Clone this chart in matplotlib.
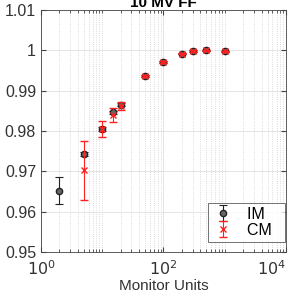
import numpy as np
import matplotlib.pyplot as plt
from matplotlib.ticker import LogLocator, FixedLocator

plt.rcParams['font.family'] = ['Liberation Sans', 'DejaVu Sans']

# monitor units and measured output ratios
mu = [2, 5, 10, 15, 20, 50, 100, 200, 300, 500, 1000]
im_val = [0.9652, 0.97425, 0.9806, 0.9846, 0.9865, 0.99367, 0.9971, 0.9992, 0.9998, 1.0000, 0.99975]
im_err = [0.0033, 0.0005, 0.0005, 0.0004, 0.0004, 0.0003, 0.0002, 0.0002, 0.0002, 0.0002, 0.0002]

cm_mu = [5, 10, 15, 20, 50, 100, 200, 300, 500, 1000]
cm_val = [0.9702, 0.9804, 0.9840, 0.9862, 0.99367, 0.9971, 0.9992, 0.9998, 1.0000, 0.99975]
cm_err = [0.0073, 0.0020, 0.0018, 0.0011, 0.0003, 0.0002, 0.0002, 0.0002, 0.0002, 0.0002]

fig = plt.figure(figsize=(2.97, 2.95), dpi=100)
ax = fig.add_axes([0.138, 0.146, 0.825, 0.82])

# trailing spaces give the legend box its wide right margin
ax.errorbar(mu, im_val, yerr=im_err, fmt='o', color='#222222', mfc='#666666', mec='#222222',
            ms=4.5, capsize=3, elinewidth=0.8, capthick=0.8, label='IM  ', zorder=3)
ax.errorbar(cm_mu, cm_val, yerr=cm_err, fmt='x', color='#ff2020', ms=5, mew=1.0,
            capsize=3, elinewidth=0.8, capthick=0.8, label='CM  ', zorder=4)

ax.set_xscale('log')
ax.set_xlim(1, 1e4)
ax.set_ylim(0.95, 1.01)
ax.set_yticks([0.95, 0.96, 0.97, 0.98, 0.99, 1.0, 1.01])
ax.set_yticklabels(['0.95', '0.96', '0.97', '0.98', '0.99', '1', '1.01'])
ax.xaxis.set_major_locator(FixedLocator([1, 100, 1e4]))
ax.set_xticklabels(['$10^0$', '$10^2$', '$10^4$'])
ax.get_xticklabels()[-1].set_horizontalalignment('right')
ax.xaxis.set_minor_locator(LogLocator(base=10, subs=np.arange(1, 10)))
ax.xaxis.set_minor_formatter(plt.NullFormatter())

ax.grid(True, which='major', color='#e0e0e0', linewidth=0.6)
ax.grid(True, which='minor', axis='x', color='#d0d0d0', linestyle=':', linewidth=0.6)
ax.set_axisbelow(True)

ax.tick_params(which='both', direction='in', top=True, right=True, colors='#444444',
               labelsize=11.5, labelcolor='#333333')
ax.tick_params(axis='x', which='major', pad=5)
ax.tick_params(which='minor', length=2)
for s in ax.spines.values():
    s.set_color('#444444')
    s.set_linewidth(0.6)

ax.set_xlabel('Monitor Units', fontsize=11, color='#333333', labelpad=1)
ax.set_title('10 MV FF', fontsize=11, fontweight='bold', pad=1)

leg = ax.legend(loc='lower right', bbox_to_anchor=(0.995, 0.042), borderaxespad=0,
                fontsize=11.5, frameon=True, fancybox=False, edgecolor='#333333',
                handlelength=1.4, handletextpad=0.8, borderpad=0.25, labelspacing=0.05)
leg.get_frame().set_linewidth(0.6)

fig.savefig('out.png', dpi=100)
